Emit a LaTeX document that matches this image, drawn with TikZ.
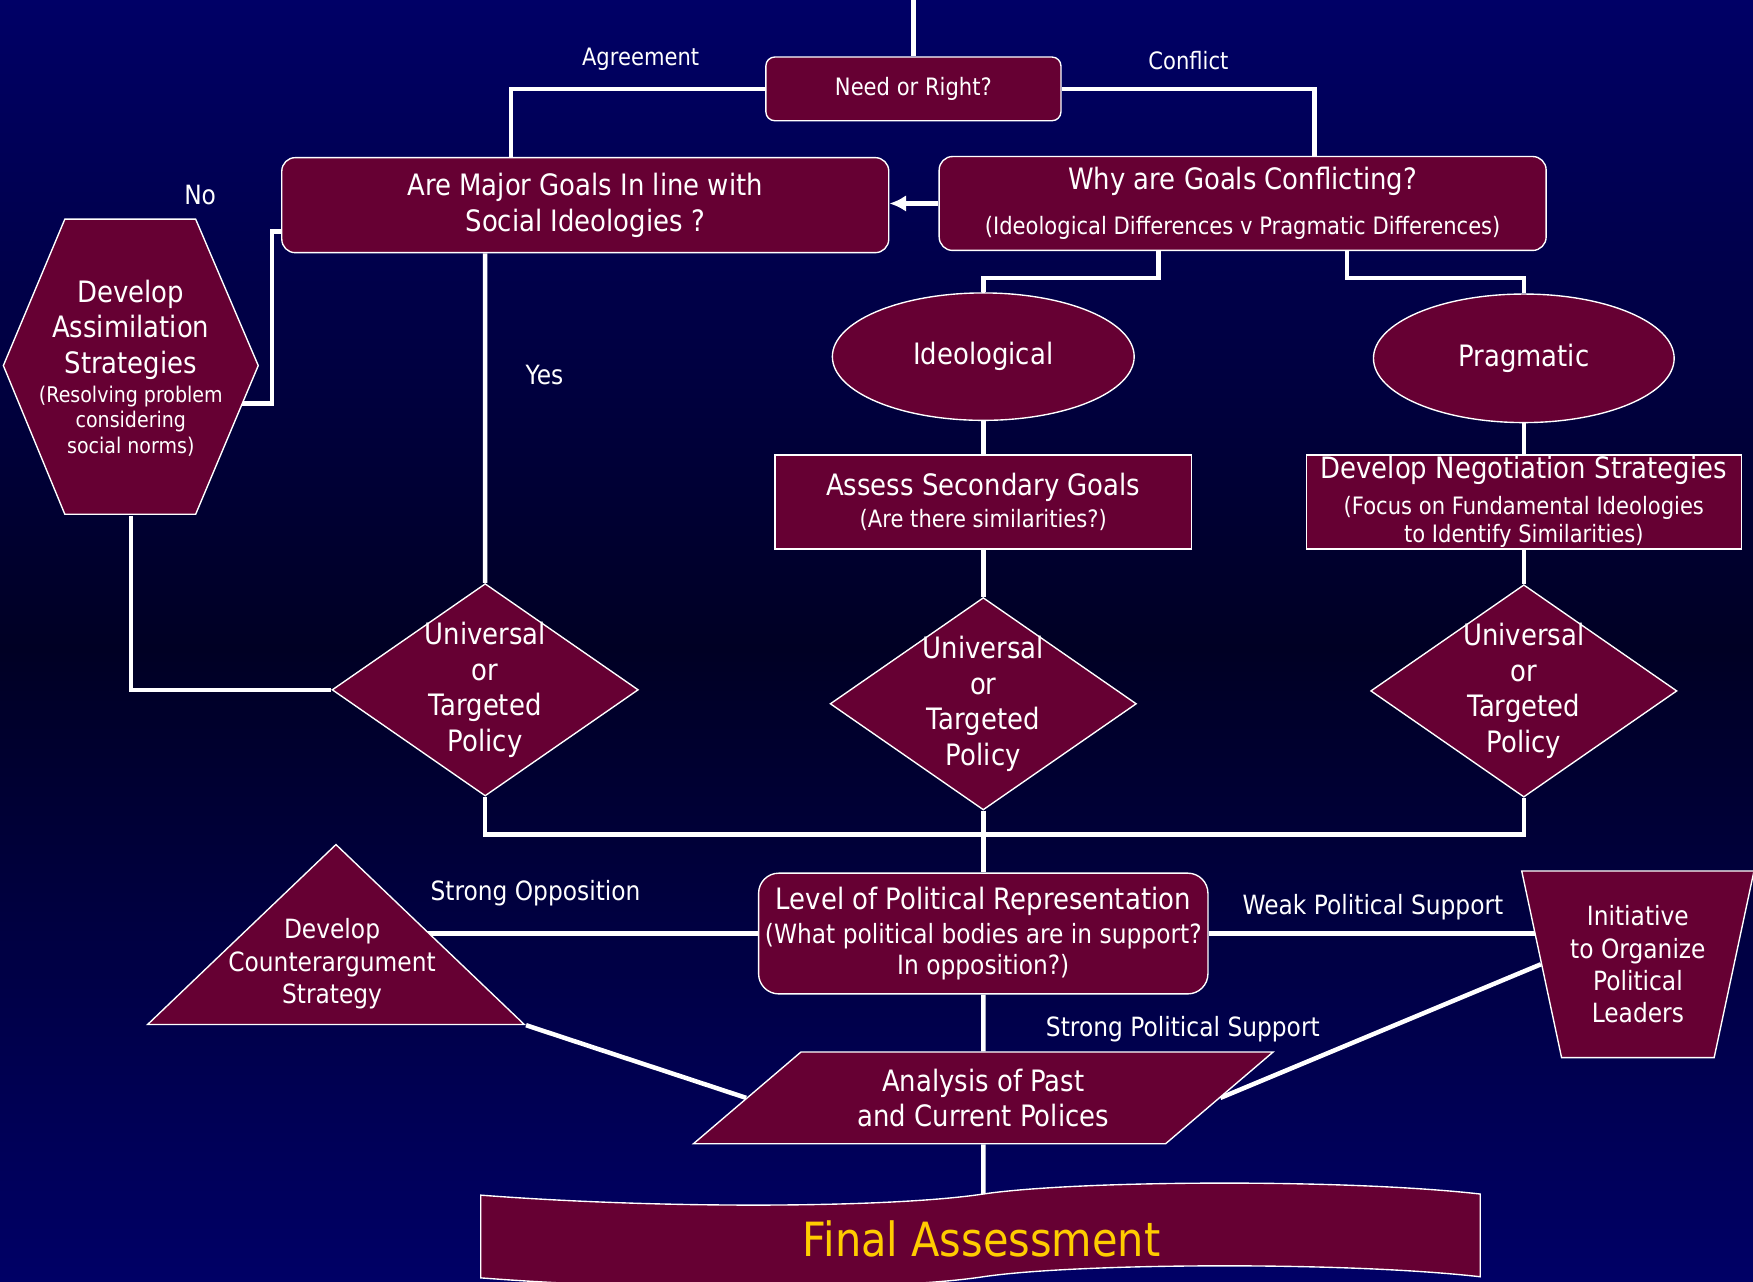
\documentclass[tikz,border=0pt]{standalone}
\usepackage{fontspec}
\setmainfont{DejaVu Sans}[FakeStretch=0.88]
\usepackage{tikz}
\usetikzlibrary{shapes.geometric,arrows.meta,backgrounds,calc}

\definecolor{navy}{RGB}{0,0,102}
\definecolor{deepnavy}{RGB}{0,0,36}
\definecolor{wine}{RGB}{102,0,51}
\definecolor{gold}{RGB}{255,204,0}

\newcommand{\bigtxt}{\fontsize{15}{18.1}\selectfont}
\newcommand{\midtxt}{\fontsize{13.5}{16.4}\selectfont}
\newcommand{\smltxt}{\fontsize{12.2}{14.5}\selectfont}
\newcommand{\tnytxt}{\fontsize{11}{13}\selectfont}

\tikzset{
  shp/.style={draw=white, line width=0.7pt, fill=wine, text=white, align=center, inner sep=0pt},
  rbox/.style={shp, rectangle, rounded corners=0.24cm},
  sbox/.style={shp, rectangle},
  oval/.style={shp, ellipse, font=\bigtxt},
  choice/.style={shp, diamond, aspect=1.44, inner sep=-3pt, minimum width=5.48cm, minimum height=3.8cm, font=\bigtxt},
  conn/.style={white, line width=2.3pt},
  lbl/.style={text=white, font=\midtxt, inner sep=0pt},
}

\begin{document}
\begin{tikzpicture}[x=0.02cm, y=-0.02cm]
\useasboundingbox (0,0) rectangle (1568,1146);

\coordinate (top) at (817,-2);
\node[rbox, rounded corners=0.16cm, minimum width=5.28cm, minimum height=1.14cm, font=\smltxt] (need) at (817,79.5) {Need or Right?};
\node[lbl, font=\smltxt] (agree) at (573,53) {Agreement};
\node[lbl, font=\smltxt] (confl) at (1063,54) {Conflict};

\node[rbox, minimum width=10.86cm, minimum height=1.7cm, font=\bigtxt] (major) at (523.5,183.5) {Are Major Goals In line with\\Social Ideologies ?};
\node[rbox, minimum width=10.86cm, minimum height=1.68cm, font=\bigtxt] (why) at (1111.5,182) {Why are Goals Conflicting?\\[4.6pt]\smltxt (Ideological Differences v Pragmatic Differences)};

\fill[wine, draw=white, line width=0.7pt] (58,196) -- (175,196) -- (231,327) -- (175,460) -- (58,460) -- (3,327) -- cycle;
\node[text=white, align=center, inner sep=0pt, minimum width=4.56cm, minimum height=5.28cm, font=\bigtxt] (hex) at (117,329) {Develop\\Assimilation\\Strategies\\[-3.4pt]\tnytxt (Resolving problem\\[-5.1pt]\tnytxt considering\\[-5.1pt]\tnytxt social norms)};
\node[lbl] (no) at (179,174) {No};
\node[lbl] (yes) at (487,335) {Yes};

\node[oval, minimum width=5.4cm, minimum height=2.28cm] (ideo) at (879.5,319) {Ideological};
\node[oval, minimum width=5.38cm, minimum height=2.3cm] (prag) at (1363,320.5) {Pragmatic};

\node[sbox, minimum width=7.46cm, minimum height=1.68cm, font=\bigtxt] (assess) at (879.5,449) {Assess Secondary Goals\\[-2.2pt]\smltxt (Are there similarities?)};
\node[sbox, minimum width=7.78cm, minimum height=1.68cm, font=\bigtxt] (nego) at (1363,449) {Develop Negotiation Strategies\\\smltxt (Focus on Fundamental Ideologies\\[-3.4pt]\smltxt to Identify Similarities)};

\node[choice] (d1) at (434,617) {Universal\\or\\Targeted\\Policy};
\node[choice] (d2) at (879.5,629.5) {Universal\\or\\Targeted\\Policy};
\node[choice] (d3) at (1363,618) {Universal\\or\\Targeted\\Policy};

\node[rbox, rounded corners=0.36cm, minimum width=8.04cm, minimum height=2.16cm, font=\bigtxt] (level) at (879.5,835) {Level of Political Representation\\[-1.1pt]\midtxt (What political bodies are in support?\\[-2.2pt]\midtxt In opposition?)};

\node[shp, isosceles triangle, isosceles triangle apex angle=92.6, shape border rotate=90, isosceles triangle stretches, minimum width=6.74cm, minimum height=3.22cm, anchor=lower side] (tri) at (300.5,917) {};
\node[text=white, align=center, inner sep=0pt, font=\midtxt] (tritxt) at (297,862) {Develop\\Counterargument\\Strategy};
\node[lbl] (oppo) at (479,799) {Strong Opposition};

\node[shp, trapezium, trapezium left angle=106.8, trapezium right angle=106.8, trapezium stretches=true, minimum width=4.16cm, minimum height=3.34cm, font=\midtxt] (init) at (1465,862.5) {Initiative\\to Organize\\Political\\Leaders};
\node[lbl] (weak) at (1228,811) {Weak Political Support};

\node[shp, trapezium, trapezium left angle=38.25, trapezium right angle=141.75, trapezium stretches=true, minimum width=10.38cm, minimum height=1.64cm, font=\bigtxt] (ana) at (879.5,982) {Analysis of Past\\and Current Polices};
\node[lbl] (strong) at (1058,921) {Strong Political Support};

\fill[wine, draw=white, line width=0.7pt] (430,1069) .. controls (600,1082) and (800,1080) .. (879.5,1068) .. controls (960,1056) and (1200,1054) .. (1324,1068) -- (1324,1142) .. controls (1200,1128) and (960,1130) .. (879.5,1142) .. controls (800,1154) and (600,1156) .. (430,1143) -- cycle;
\coordinate (fatop) at (879.5,1068);
\node[text=gold, font=\fontsize{24}{28}\selectfont] (final) at (878,1108) {Final Assessment};

\begin{scope}[on background layer]
\fill[top color=navy, bottom color=deepnavy] (0,0) rectangle (1568,580);
\fill[top color=deepnavy, bottom color=navy] (0,579) rectangle (1568,1146);

\draw[conn] (top) -- (need.north);
\draw[conn] (need.west) -| ([xshift=-1.33cm]major.north);
\draw[conn] (need.east) -| ([xshift=1.29cm]why.north);
\draw[conn, -{Latex[length=8.5pt,width=8.5pt]}] (why.west) -- (why.west -| major.east);
\draw[conn] ([yshift=-0.47cm]major.west) -- ++(-8,0) |- ([yshift=-0.64cm]hex.center);
\draw[conn] ([xshift=-1.79cm]major.south) -- (d1.north);
\draw[conn] (hex.south) |- (d1.west);
\draw[conn] ([xshift=-1.51cm]why.south) -- ++(0,24) -| (ideo.north);
\draw[conn] ([xshift=1.87cm]why.south) -- ++(0,24) -| (prag.north);
\draw[conn] (ideo.south) -- (assess.north);
\draw[conn] (prag.south) -- (nego.north);
\draw[conn] (assess.south) -- (d2.north);
\draw[conn] (nego.south) -- (d3.north);
\draw[conn] (d1.south) -- ++(0,34) -| (d3.south);
\draw[conn] (d2.south) -- (level.north);
\draw[conn] (level.west) -- (level.west -| tri.apex);
\draw[conn] (level.east) -- (level.east -| init.center);
\draw[conn] (level.south) -- (ana.north);
\draw[conn] (tri.right corner) -- (ana.left side);
\draw[conn] (init.left side) -- (ana.right side);
\draw[conn] (ana.south) -- (fatop);
\end{scope}
\end{tikzpicture}
\end{document}
